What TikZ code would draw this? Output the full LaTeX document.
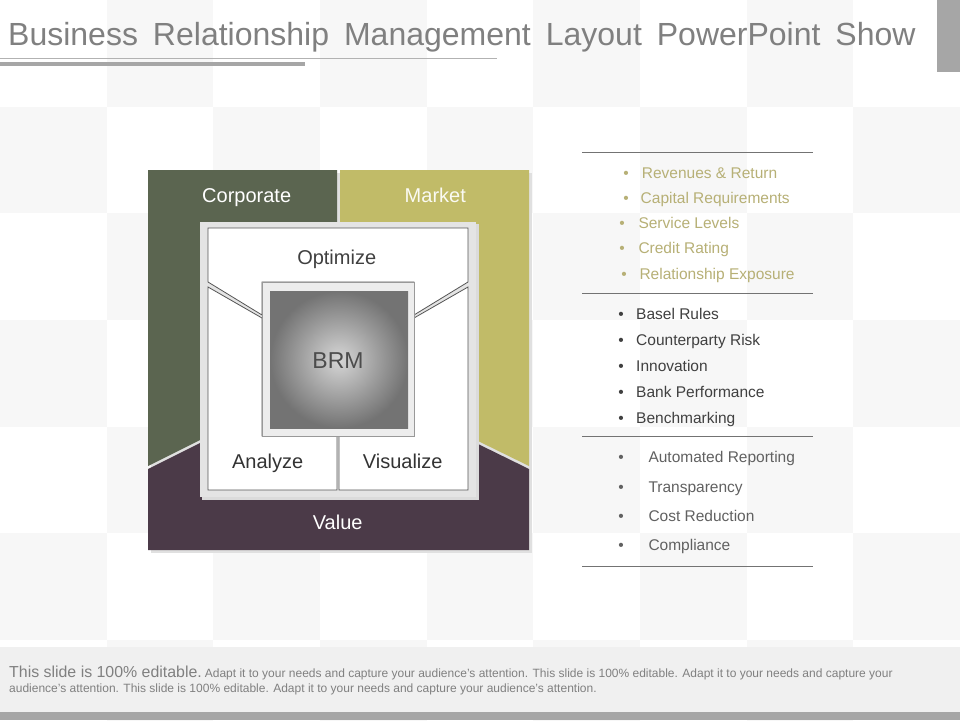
\documentclass[tikz,border=0pt]{standalone}
\usepackage{fontspec}
\setmainfont{Liberation Sans}
\usetikzlibrary{positioning}
\definecolor{corpgreen}{RGB}{91,101,80}
\definecolor{marketolive}{RGB}{193,187,104}
\definecolor{valueplum}{RGB}{75,58,72}
\definecolor{listolive}{RGB}{183,176,118}
\definecolor{titlegray}{RGB}{128,128,128}
\definecolor{tilegray}{RGB}{247,247,247}
\definecolor{footgray}{RGB}{240,240,240}
\definecolor{bargray}{RGB}{166,166,166}
\definecolor{framegray}{RGB}{228,228,228}
\definecolor{edgegray}{RGB}{85,85,85}

\begin{document}
\begin{tikzpicture}[x=1pt,y=-1pt]
        % Define the styles
        \tikzstyle{boxtext}=[inner sep=0pt, anchor=base, font=\fontsize{20}{24}\selectfont]
        \tikzstyle{boxpiece}=[fill=white, draw=edgegray, line width=0.8pt]
        \tikzstyle{listitem}=[inner sep=0pt, anchor=base west, font=\fontsize{15.5}{18}\selectfont]
        \tikzstyle{listrule}=[draw=black!55, line width=0.8pt]
        \useasboundingbox (0,0) rectangle (960,720);

        % Checkered background
        \fill[white] (0,0) rectangle (960,720);
        \foreach \c in {0,...,8}
            \foreach \r in {0,...,6}{
                \pgfmathtruncatemacro{\odd}{mod(\c+\r,2)}
                \ifnum\odd=1 \fill[tilegray] (\c*106.667,\r*106.667) rectangle +(106.667,106.667); \fi
            }

        % Title and its bars
        \node (title)[anchor=base west, inner sep=0pt, text=titlegray, font={\fontsize{32}{36}\selectfont\spaceskip=15pt}] at (8,45) {Business Relationship Management Layout PowerPoint Show};
        \draw[line width=1.5pt, black!30] (0,58.5) -- (497,58.5);
        \fill[bargray] (0,61.5) rectangle (305,65.5);
        \fill[bargray] (937,0) rectangle (960,72);

        % Outer regions
        \fill[black!12] (151,173) rectangle (532,553);
        \fill[corpgreen] (148,170) -- (337,170) -- (337,440) -- (200,440) -- (148,466) -- cycle;
        \fill[marketolive] (340,170) -- (529,170) -- (529,466) -- (476,440) -- (340,440) -- cycle;
        \fill[valueplum] (148,469) -- (200,443) -- (476,443) -- (529,469) -- (529,550) -- (148,550) -- cycle;

        % White box with its pieces
        \fill[black!14] (202,224) rectangle (479,500);
        \fill[framegray] (200,222) rectangle (476,497);
        \draw[boxpiece] (208,228) -- (468,228) -- (468,282) -- (414,315) -- (414,282) -- (262,282) -- (262,315) -- (208,282) -- cycle;
        \draw[boxpiece] (208,287) -- (262,318) -- (262,436) -- (337,436) -- (337,490) -- (208,490) -- cycle;
        \draw[boxpiece] (339,436) -- (414,436) -- (414,318) -- (468,287) -- (468,490) -- (339,490) -- cycle;

        % Center square
        \draw[fill=black!7, draw=black!40, line width=0.8pt] (262,282) rectangle (414,436);
        \shade[inner color=black!16, outer color=black!55] (270,291) rectangle (408,428);

        % Labels
        \node (corporate)[boxtext, text=white] at (246.7,202.7) {Corporate};
        \node (market)[boxtext, text=white!92!marketolive] at (435.3,202.7) {Market};
        \node (optimize)[boxtext, text=black!75] at (336.7,264.3) {Optimize};
        \node (brm)[boxtext, text=black!70, font=\fontsize{23}{26}\selectfont] at (338,368.3) {BRM};
        \node (analyze)[boxtext, text=black!80] at (267.7,468.3) {Analyze};
        \node (visualize)[boxtext, text=black!80] at (402.7,468.3) {Visualize};
        \node (value)[boxtext, text=white] at (337.7,529.3) {Value};

        % Right hand lists
        \coordinate (ruleA) at (582,152.3);
        \coordinate (ruleB) at (582,293.3);
        \coordinate (ruleC) at (582,436.7);
        \coordinate (ruleD) at (582,566);
        \foreach \p in {ruleA,ruleB,ruleC,ruleD}
            \draw[listrule] (\p) -- ++(231,0);

        \foreach \bx/\tx/\y/\t [count=\i] in {626/641.7/172.3/Revenues \& Return, 626/640.5/197.3/Capital Requirements, 622/638.3/222.7/Service Levels, 622/638.3/247.7/Credit Rating, 624/639.3/273.3/Relationship Exposure}{
            \node (topdot\i)[listitem, anchor=base, text=listolive] at (\bx,\y+6) {\textbullet};
            \node (top\i)[listitem, text=listolive] at (\tx,\y+6) {\t};
        }
        \foreach \y/\t [count=\i] in {313.3/Basel Rules, 339.3/Counterparty Risk, 365.3/Innovation, 391.7/Bank Performance, 417.7/Benchmarking}{
            \node (middot\i)[listitem, anchor=base, text=black!75] at (621,\y+6) {\textbullet};
            \node (mid\i)[listitem, text=black!75] at (636,\y+6) {\t};
        }
        \foreach \y/\t [count=\i] in {456.7/Automated Reporting, 486/Transparency, 515/Cost Reduction, 544.3/Compliance}{
            \node (lowdot\i)[listitem, anchor=base, text=black!62] at (621,\y+6) {\textbullet};
            \node (low\i)[listitem, text=black!62] at (648.3,\y+6) {\t};
        }

        % Footer
        \fill[footgray] (0,647) rectangle (960,712);
        \fill[bargray] (0,712) rectangle (960,720);
        \node (footA)[anchor=base west, inner sep=0pt, text=black!50] at (9,677) {{\fontsize{15.9}{18}\selectfont This slide is 100\% editable.}\hspace{3pt}{\fontsize{12}{14}\selectfont Adapt it to your needs and capture your audience's attention. This slide is 100\% editable. Adapt it to your needs and capture your}};
        \node (footB)[anchor=base west, inner sep=0pt, text=black!50, font=\fontsize{12}{14}\selectfont] at (9,692) {audience's attention. This slide is 100\% editable. Adapt it to your needs and capture your audience's attention.};
    \end{tikzpicture}
\end{document}
